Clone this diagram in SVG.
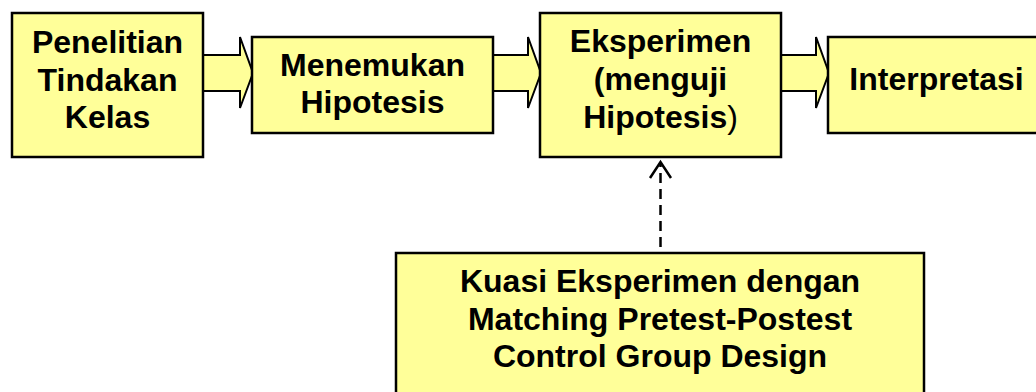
<svg xmlns="http://www.w3.org/2000/svg" width="1036" height="392" viewBox="0 0 1036 392">
  <style>
    .box { fill: #FFFF99; stroke: #000; stroke-width: 2.5; }
    .arr { fill: #FFFF99; stroke: #000; stroke-width: 2; stroke-linejoin: miter; }
    .t { font-family: "Liberation Sans", Arial, sans-serif; font-weight: bold; font-size: 32px; fill: #000; text-anchor: middle; }
    .n { font-weight: normal; }
    .dash { fill: none; stroke: #000; stroke-width: 2.5; stroke-dasharray: 10 6; }
    .head { fill: none; stroke: #000; stroke-width: 2.5; }
  </style>
  <rect width="1036" height="392" fill="#fff"/>
  <g id="connectors">
    <path class="arr" d="M203,55 H240 V37 L253,73 L240,108 V91 H203"/>
    <path class="arr" d="M493,55 H528 V37 L541,73 L528,108 V91 H493"/>
    <path class="arr" d="M781,55 H816 V37 L829,73 L816,108 V91 H781"/>
    <line class="dash" x1="660.5" y1="247" x2="660.5" y2="164"/>
    <polyline class="head" points="650,178 660.5,162 671,178"/>
  </g>
  <g id="node1">
    <rect class="box" x="12" y="13" width="191" height="144"/>
    <text class="t" x="107.5" y="53">Penelitian</text>
    <text class="t" x="107.5" y="90.5">Tindakan</text>
    <text class="t" x="107.5" y="127.5">Kelas</text>
  </g>
  <g id="node2">
    <rect class="box" x="252" y="37" width="241" height="96"/>
    <text class="t" x="372.5" y="76">Menemukan</text>
    <text class="t" x="372.5" y="112.5">Hipotesis</text>
  </g>
  <g id="node3">
    <rect class="box" x="540" y="13" width="241" height="144"/>
    <text class="t" x="660.5" y="52">Eksperimen</text>
    <text class="t" x="660.5" y="90">(menguji</text>
    <text class="t" x="660.5" y="127.5">Hipotesis<tspan class="n">)</tspan></text>
  </g>
  <g id="node4">
    <rect class="box" x="828" y="37" width="222" height="96"/>
    <text class="t" x="936.5" y="90">Interpretasi</text>
  </g>
  <g id="node5">
    <rect class="box" x="396" y="253" width="528" height="150"/>
    <text class="t" x="660" y="292">Kuasi Eksperimen dengan</text>
    <text class="t" x="660" y="330">Matching Pretest-Postest</text>
    <text class="t" x="660" y="367">Control Group Design</text>
  </g>
</svg>
